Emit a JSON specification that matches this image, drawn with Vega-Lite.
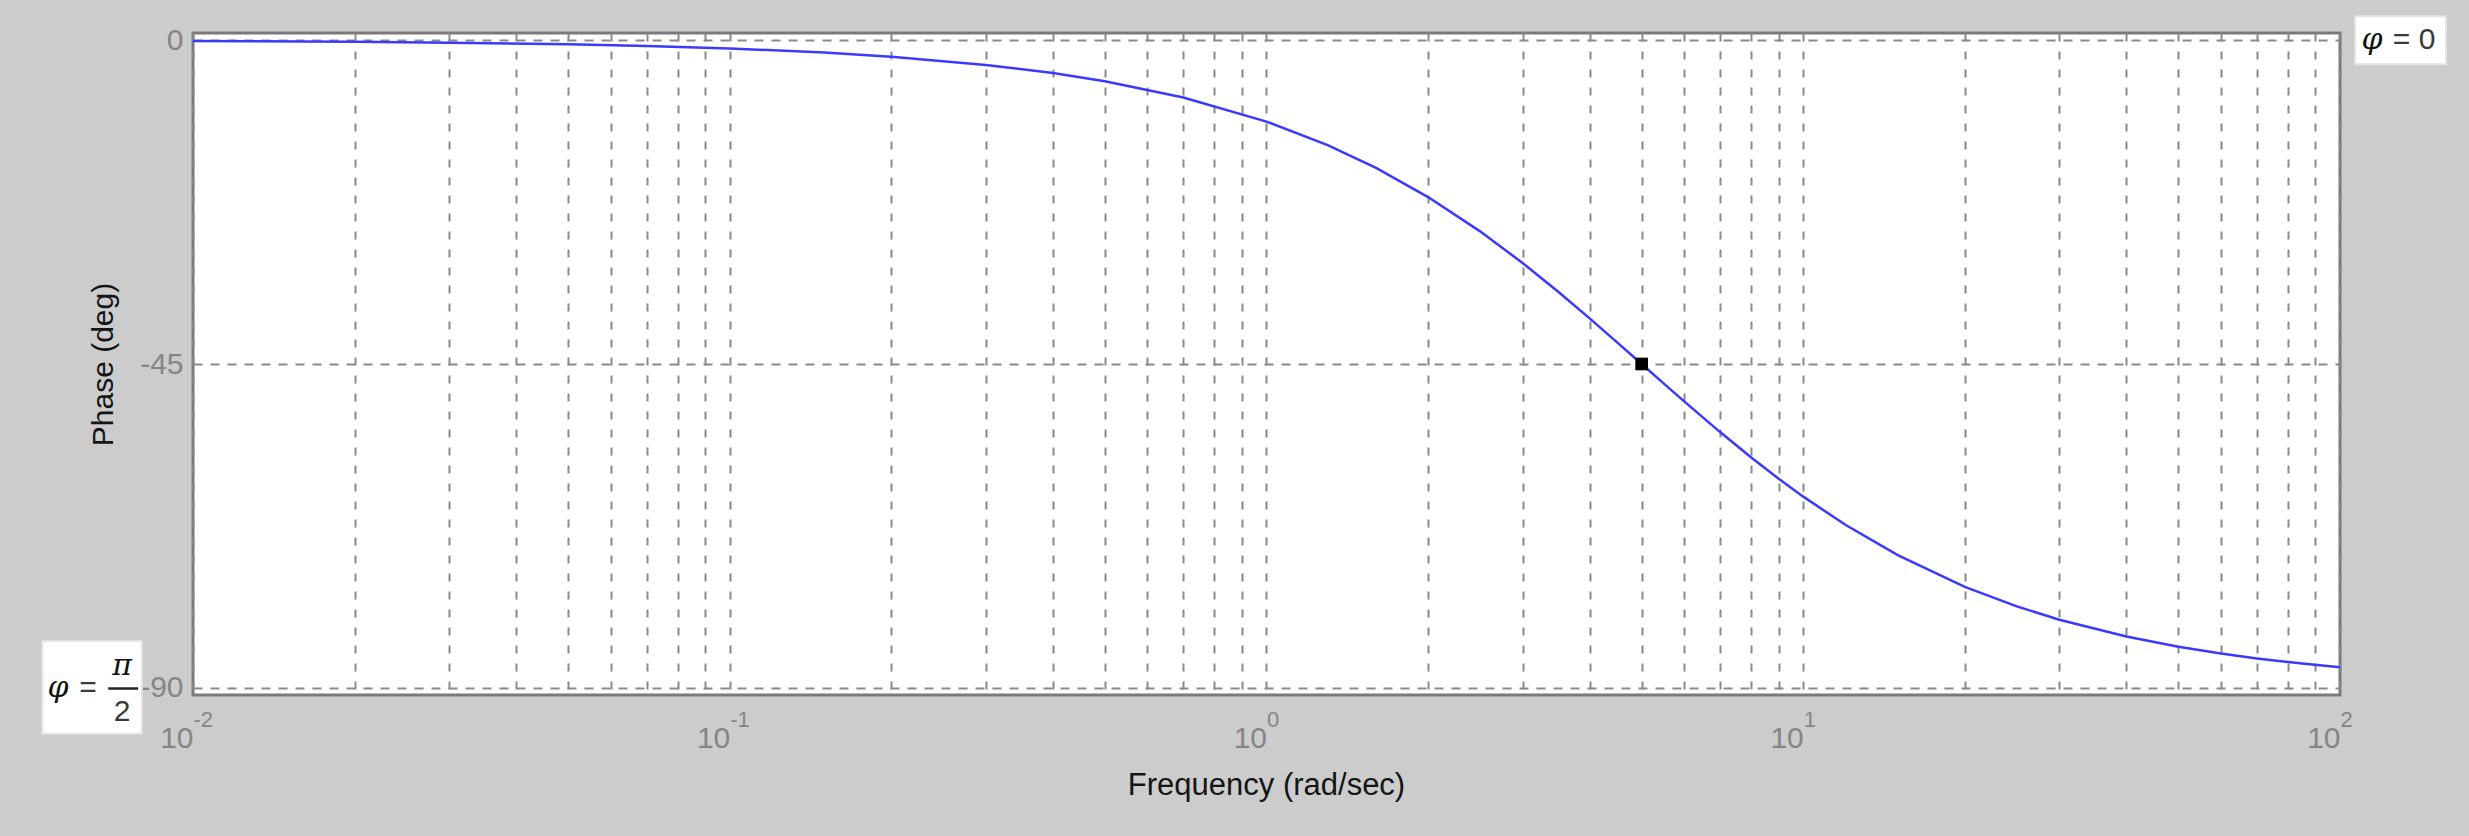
{
  "$schema": "https://vega.github.io/schema/vega-lite/v6.json",
  "width": 2147,
  "height": 662,
  "autosize": {"type": "none"},
  "padding": {"left": 193, "top": 33, "right": 129, "bottom": 141},
  "background": "#cccccc",
  "config": {
    "view": {"fill": "#ffffff", "stroke": "#7a7a7a", "strokeWidth": 3},
    "font": "Liberation Sans"
  },
  "resolve": {"axis": {"x": "independent", "y": "independent"}},
  "layer": [
    {
      "data": {"values": [
        {"w": 0.01, "phase": -0.115}, {"w": 0.02, "phase": -0.229}, {"w": 0.03, "phase": -0.344},
        {"w": 0.05, "phase": -0.573}, {"w": 0.07, "phase": -0.802}, {"w": 0.1, "phase": -1.146},
        {"w": 0.15, "phase": -1.718}, {"w": 0.2, "phase": -2.291}, {"w": 0.3, "phase": -3.434},
        {"w": 0.4, "phase": -4.574}, {"w": 0.5, "phase": -5.711}, {"w": 0.7, "phase": -7.97},
        {"w": 1, "phase": -11.31}, {"w": 1.3, "phase": -14.574}, {"w": 1.6, "phase": -17.745},
        {"w": 2, "phase": -21.801}, {"w": 2.5, "phase": -26.565}, {"w": 3, "phase": -30.964},
        {"w": 3.5, "phase": -34.992}, {"w": 4, "phase": -38.66}, {"w": 4.5, "phase": -41.987},
        {"w": 5, "phase": -45.0}, {"w": 5.5, "phase": -47.726}, {"w": 6, "phase": -50.194},
        {"w": 7, "phase": -54.462}, {"w": 8, "phase": -57.995}, {"w": 9, "phase": -60.945},
        {"w": 10, "phase": -63.435}, {"w": 12, "phase": -67.38}, {"w": 15, "phase": -71.565},
        {"w": 20, "phase": -75.964}, {"w": 25, "phase": -78.69}, {"w": 30, "phase": -80.538},
        {"w": 40, "phase": -82.875}, {"w": 50, "phase": -84.289}, {"w": 60, "phase": -85.236},
        {"w": 70, "phase": -85.914}, {"w": 85, "phase": -86.634}, {"w": 100, "phase": -87.138}
      ]},
      "mark": {"type": "line", "color": "#3a3aff", "strokeWidth": 2.5, "clip": true},
      "encoding": {
        "x": {"field": "w", "type": "quantitative",
          "scale": {"type": "log", "domain": [0.01, 100], "nice": false},
          "axis": {"orient": "bottom",
            "values": [0.01, 0.02, 0.03, 0.04, 0.05, 0.06, 0.07, 0.08, 0.09, 0.1, 0.2, 0.3, 0.4, 0.5, 0.6, 0.7, 0.8, 0.9, 1, 2, 3, 4, 5, 6, 7, 8, 9, 10, 20, 30, 40, 50, 60, 70, 80, 90, 100],
            "labels": false, "ticks": false, "tickSize": 0, "domain": false, "grid": true,
            "gridColor": "#8a8a8a", "gridDash": [8, 10], "gridWidth": 2, "title": null}},
        "y": {"field": "phase", "type": "quantitative",
          "scale": {"domain": [-91, 1], "nice": false, "zero": false},
          "axis": {"orient": "left", "values": [-90, -45, 0], "grid": true, "gridColor": "#8a8a8a", "gridDash": [9, 8], "gridWidth": 2,
            "ticks": false, "tickSize": 0, "domain": false,
            "labelExpr": "'' + datum.value", "labelFontSize": 30, "labelColor": "#858585", "labelPadding": 10,
            "labelBaseline": "middle", "labelFlush": false, "labelOverlap": false, "labelBound": false,
            "title": "Phase (deg)", "titleFontSize": 30, "titleFontWeight": "normal", "titleColor": "#151515",
            "titleX": -90, "titleY": 331, "titleAlign": "center", "titleBaseline": "middle", "titleAngle": 270}}
      }
    },
    {
      "data": {"values": [
        {"x": 106.7, "x2": 157.6, "y": 3.33, "y2": -3.33},
        {"x": 0.00524, "x2": 0.00803, "y": -83.5, "y2": -96.4}
      ]},
      "mark": {"type": "rect", "fill": "#ffffff", "stroke": "#e4e4e4", "strokeWidth": 2},
      "encoding": {
        "x": {"field": "x", "type": "quantitative",
          "axis": {"orient": "bottom", "values": [0.01, 0.1, 1, 10, 100], "grid": false, "ticks": false, "tickSize": 0, "domain": false,
            "labelExpr": "'' + round(log(datum.value)/LN10)", "labelFontSize": 22, "labelColor": "#858585",
            "labelAlign": "left", "labelDx": 9, "labelBaseline": "alphabetic", "labelPadding": 31,
            "labelFlush": false, "labelOverlap": false, "labelBound": false, "title": null}},
        "x2": {"field": "x2"},
        "y": {"field": "y", "type": "quantitative", "axis": null},
        "y2": {"field": "y2"}
      }
    },
    {
      "data": {"values": [{"w": 5, "phase": -45}]},
      "mark": {"type": "point", "shape": "square", "filled": true, "color": "#000000", "size": 160, "opacity": 1},
      "encoding": {
        "x": {"field": "w", "type": "quantitative",
          "axis": {"orient": "bottom", "values": [0.01, 0.1, 1, 10, 100], "grid": false, "ticks": false, "tickSize": 0, "domain": false,
            "labelExpr": "'10'", "labelFontSize": 30, "labelColor": "#858585",
            "labelAlign": "right", "labelDx": 9, "labelBaseline": "alphabetic", "labelPadding": 52,
            "labelFlush": false, "labelOverlap": false, "labelBound": false,
            "title": "Frequency  (rad/sec)", "titleFontSize": 31, "titleFontWeight": "normal", "titleColor": "#151515",
            "titleX": 1073, "titleY": 90, "titleAlign": "center", "titleBaseline": "middle"}},
        "y": {"field": "phase", "type": "quantitative", "axis": null}
      }
    },
    {
      "data": {"values": [
        {"x": 114.7, "y": 0, "t": "φ"},
        {"x": 0.005605, "y": -90, "t": "φ"},
        {"x": 0.007375, "y": -87.0, "t": "π"}
      ]},
      "mark": {"type": "text", "font": "DejaVu Serif", "fontStyle": "italic", "fontSize": 30, "color": "#111111", "align": "center", "baseline": "middle"},
      "encoding": {
        "x": {"field": "x", "type": "quantitative", "axis": null},
        "y": {"field": "y", "type": "quantitative", "axis": null},
        "text": {"field": "t"}
      }
    },
    {
      "data": {"values": [
        {"x": 137.4, "y": 0, "t": "= 0"},
        {"x": 0.006374, "y": -90, "t": "="},
        {"x": 0.007375, "y": -93.4, "t": "2"}
      ]},
      "mark": {"type": "text", "font": "Liberation Sans", "fontSize": 30, "color": "#3a3a3a", "align": "center", "baseline": "middle"},
      "encoding": {
        "x": {"field": "x", "type": "quantitative", "axis": null},
        "y": {"field": "y", "type": "quantitative", "axis": null},
        "text": {"field": "t"}
      }
    },
    {
      "data": {"values": [{"x": 0.00695, "x2": 0.0079, "y": -90.1}]},
      "mark": {"type": "rule", "color": "#222222", "strokeWidth": 2.5},
      "encoding": {
        "x": {"field": "x", "type": "quantitative", "axis": null},
        "x2": {"field": "x2"},
        "y": {"field": "y", "type": "quantitative", "axis": null}
      }
    }
  ]
}
